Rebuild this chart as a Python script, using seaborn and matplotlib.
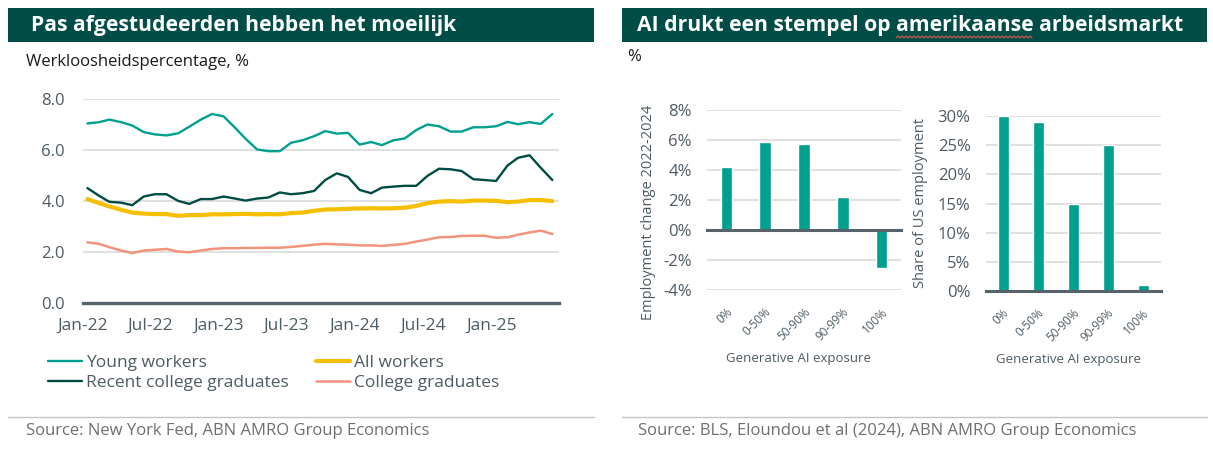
#!/usr/bin/env python3
"""
Two panel labour market chart: US unemployment rates (left) and
employment change / share by generative AI exposure (right).
"""
import matplotlib.pyplot as plt
from matplotlib.lines import Line2D
from matplotlib.patches import Rectangle
import numpy as np
import pandas as pd
import seaborn as sns

# === Data ===
MONTHS = pd.date_range("2022-01-01", "2025-06-01", freq="MS") + pd.Timedelta(days=12)
YOUNG = [7.04, 7.09, 7.19, 7.09, 6.96, 6.70, 6.61, 6.57, 6.65, 6.91,
         7.19, 7.41, 7.32, 6.87, 6.44, 6.02, 5.95, 5.95, 6.28, 6.38,
         6.54, 6.74, 6.64, 6.67, 6.21, 6.31, 6.19, 6.38, 6.45, 6.78,
         7.00, 6.93, 6.72, 6.72, 6.89, 6.89, 6.93, 7.10, 7.01, 7.09,
         7.02, 7.41]
RECENT_GRADS = [4.50, 4.20, 3.96, 3.93, 3.83, 4.17, 4.26, 4.26, 4.00, 3.88,
                4.07, 4.07, 4.17, 4.09, 4.01, 4.09, 4.13, 4.33, 4.26, 4.30,
                4.39, 4.82, 5.08, 4.94, 4.43, 4.30, 4.52, 4.56, 4.59, 4.59,
                4.98, 5.26, 5.24, 5.17, 4.85, 4.82, 4.78, 5.39, 5.69, 5.79,
                5.30, 4.82]
ALL_WORKERS = [4.07, 3.91, 3.78, 3.65, 3.54, 3.50, 3.48, 3.48, 3.41, 3.44,
               3.44, 3.47, 3.47, 3.48, 3.49, 3.47, 3.48, 3.47, 3.52, 3.54,
               3.61, 3.66, 3.67, 3.69, 3.70, 3.71, 3.70, 3.71, 3.73, 3.80,
               3.91, 3.97, 3.99, 3.97, 4.01, 4.01, 4.00, 3.95, 3.97, 4.03,
               4.03, 3.99]
COLLEGE_GRADS = [2.37, 2.31, 2.18, 2.05, 1.95, 2.05, 2.08, 2.11, 2.01, 1.98,
                 2.05, 2.11, 2.14, 2.14, 2.15, 2.15, 2.16, 2.16, 2.19, 2.23,
                 2.28, 2.31, 2.29, 2.28, 2.25, 2.25, 2.23, 2.27, 2.31, 2.40,
                 2.48, 2.57, 2.58, 2.62, 2.63, 2.63, 2.55, 2.57, 2.67, 2.76,
                 2.83, 2.70]
TICK_DATES = pd.date_range("2022-01-01", "2025-07-01", freq="6MS")
TICK_LABELS = ["Jan-22", "Jul-22", "Jan-23", "Jul-23", "Jan-24", "Jul-24", "Jan-25", ""]

EXPOSURE = ["0%", "0-50%", "50-90%", "90-99%", "100%"]
EMP_CHANGE = [4.2, 5.9, 5.75, 2.2, -2.5]
EMP_SHARE = [30, 29, 15, 25, 1]

# === Style ===
TEAL = "#00a08f"
DARK = "#004c45"
YELLOW = "#f5bf00"
SALMON = "#f2937c"
HEADER_BG = "#004d48"
AXIS_GREY = "#56636b"
TICK_GREY = "#4d5b63"
GRID = "#dadada"
SOURCE_GREY = "#6f6f6f"
TITLE_SIZE = 15.2

W, H = 1213, 451

sns.set_style("white")
plt.rcParams["font.family"] = ["Open Sans", "DejaVu Sans"]


def box(x0, y0, x1, y1):
    """Pixel box (top-left origin) -> figure fraction rect."""
    return [x0 / W, 1 - y1 / H, (x1 - x0) / W, (y1 - y0) / H]


def fx(x):
    return x / W


def fy(y):
    return 1 - y / H


def header(fig, x0, x1, text, text_x):
    fig.add_artist(Rectangle((fx(x0), fy(42)), (x1 - x0) / W, 34 / H,
                             transform=fig.transFigure, color=HEADER_BG, lw=0))
    return fig.text(fx(text_x), fy(25), text, color="white", fontsize=TITLE_SIZE,
                    fontweight="bold", va="center")


def footer(fig, x0, x1, text, text_x):
    fig.add_artist(Line2D([fx(x0), fx(x1)], [fy(417), fy(417)],
                          transform=fig.transFigure, color="#c4c4c4", lw=1))
    fig.text(fx(text_x), fy(431), text, color=SOURCE_GREY, fontsize=12, va="center")


# === Left: unemployment rates ===
def plot_unemployment(fig):
    ax = fig.add_axes(box(83, 99, 559, 302.7))
    df = pd.DataFrame({
        "month": MONTHS,
        "Young workers": YOUNG,
        "Recent college graduates": RECENT_GRADS,
        "All workers": ALL_WORKERS,
        "College graduates": COLLEGE_GRADS,
    }).melt(id_vars="month", var_name="group", value_name="rate")

    styles = {
        "Young workers": (TEAL, 1.7),
        "Recent college graduates": (DARK, 1.7),
        "All workers": (YELLOW, 3.0),
        "College graduates": (SALMON, 1.8),
    }
    for name, (color, lw) in styles.items():
        sns.lineplot(data=df[df["group"] == name], x="month", y="rate",
                     color=color, linewidth=lw, label=name, errorbar=None,
                     legend=False, ax=ax)

    ax.set_xlim(pd.Timestamp("2022-01-01"), pd.Timestamp("2025-07-01"))
    ax.set_ylim(0, 8)
    ax.set_yticks([0, 2, 4, 6, 8], ["0.0", "2.0", "4.0", "6.0", "8.0"])
    ax.set_xticks(TICK_DATES, TICK_LABELS)
    ax.set_xlabel("")
    ax.set_ylabel("")
    ax.grid(axis="y", color=GRID, lw=1.2)
    ax.grid(axis="x", visible=False)
    for side in ["left", "right", "top"]:
        ax.spines[side].set_visible(False)
    ax.spines["bottom"].set_color(AXIS_GREY)
    ax.spines["bottom"].set_linewidth(2.4)
    ax.tick_params(axis="x", direction="out", length=5, width=2, color=AXIS_GREY,
                   labelcolor=TICK_GREY, labelsize=12.5, pad=6)
    ax.tick_params(axis="y", length=0, labelcolor=TICK_GREY, labelsize=12, pad=13)

    handles, labels = ax.get_legend_handles_labels()
    fig.legend(handles, labels, ncol=2, loc="upper left",
               bbox_to_anchor=(fx(48), fy(355)), frameon=False, fontsize=12.5,
               handlelength=1.95, handletextpad=0.22, columnspacing=1.6,
               labelspacing=0.22, borderpad=0, borderaxespad=0, labelcolor=TICK_GREY)

    fig.text(fx(26), fy(62), "Werkloosheidspercentage, %", fontsize=12, va="center",
             color="#1a1a1a")


# === Right: AI exposure bars ===
def plot_bars(fig, rect, values, ylim, yticks, ylabel, ylabel_xy, width):
    ax = fig.add_axes(box(*rect))
    sns.barplot(x=EXPOSURE, y=values, color=TEAL, saturation=1, width=width, ax=ax)
    ax.set_xlim(-0.5, len(EXPOSURE) - 0.5)
    ax.set_ylim(*ylim)
    ax.set_yticks(yticks, [f"{t}%" for t in yticks])
    ax.set_xlabel("")
    ax.set_ylabel("")
    ax.grid(axis="y", color=GRID, lw=1.2)
    ax.grid(axis="x", visible=False)
    ax.set_axisbelow(True)
    for side in ["left", "right", "top"]:
        ax.spines[side].set_visible(False)
    ax.spines["bottom"].set_position(("data", 0))
    ax.spines["bottom"].set_color(AXIS_GREY)
    ax.spines["bottom"].set_linewidth(2.2)
    ax.set_xticks(np.arange(len(EXPOSURE) + 1) - 0.5, minor=True)
    ax.tick_params(axis="x", which="minor", direction="out", length=5, width=1.8,
                   color=AXIS_GREY)
    ax.tick_params(axis="x", which="major", length=0, labelbottom=False)
    ax.tick_params(axis="y", length=0, labelcolor=TICK_GREY, labelsize=12, pad=11)

    trans = ax.get_xaxis_transform()
    for i, lab in enumerate(EXPOSURE):
        ax.text(i + 0.1, -20 / (rect[3] - rect[1]), lab, transform=trans,
                rotation=45, rotation_mode="anchor", ha="right", va="center",
                fontsize=8.5, color=TICK_GREY)
    ax.text(0.47, -68 / (rect[3] - rect[1]), "Generative AI exposure",
            transform=ax.transAxes, ha="center", va="center", fontsize=9.5,
            color=TICK_GREY)
    fig.text(fx(ylabel_xy[0]), fy(ylabel_xy[1]), ylabel, rotation=90,
             ha="center", va="center", fontsize=10.5, color=TICK_GREY)


def squiggle(fig, title, word):
    """Red spell-check wave under one word of a header text."""
    renderer = fig.canvas.get_renderer()
    full = title.get_text()
    end = full.index(word) + len(word)
    probe = fig.text(0, 0, full[:end], fontsize=TITLE_SIZE, fontweight="bold")
    probe_word = fig.text(0, 0, word, fontsize=TITLE_SIZE, fontweight="bold")
    x_end = title.get_window_extent(renderer).x0 + probe.get_window_extent(renderer).width
    x_start = x_end - probe_word.get_window_extent(renderer).width
    probe.remove()
    probe_word.remove()
    xs = np.arange(x_start, x_end, 2.0)
    ys = (H - 37) + np.where(np.arange(len(xs)) % 2 == 0, -1.0, 1.0)
    fig.add_artist(Line2D(xs / W, ys / H, transform=fig.transFigure,
                          color="#e0554a", lw=0.8))


def main():
    fig = plt.figure(figsize=(W / 100, H / 100), dpi=100)

    header(fig, 8, 594, "Pas afgestudeerden hebben het moeilijk", 31)
    right_title = header(fig, 622, 1207, "AI drukt een stempel op amerikaanse arbeidsmarkt", 637)
    footer(fig, 8, 594, "Source: New York Fed, ABN AMRO Group Economics", 26)
    footer(fig, 622, 1207, "Source: BLS, Eloundou et al (2024), ABN AMRO Group Economics", 638)

    plot_unemployment(fig)

    fig.text(fx(627), fy(57), "%", fontsize=12, va="center", color="#1a1a1a")
    plot_bars(fig, (707, 110, 901, 290), EMP_CHANGE, (-4, 8), [-4, -2, 0, 2, 4, 6, 8],
              "Employment change 2022-2024", (648, 212), 0.3)
    plot_bars(fig, (986, 116, 1161, 291), EMP_SHARE, (0, 30), [0, 5, 10, 15, 20, 25, 30],
              "Share of US employment", (921, 203), 0.31)

    squiggle(fig, right_title, "amerikaanse")

    fig.savefig("out.png", dpi=100)
    plt.close(fig)


if __name__ == "__main__":
    main()
